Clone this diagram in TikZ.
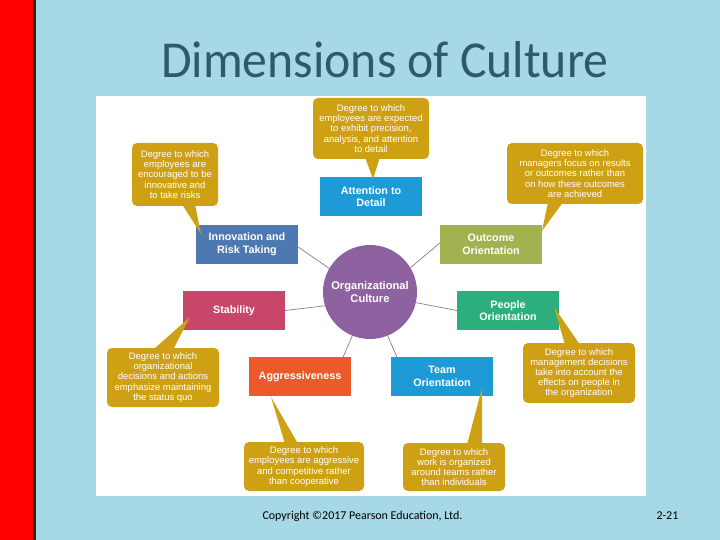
\documentclass[tikz,border=0pt]{standalone}
\usepackage{fontspec}
\setmainfont{Liberation Sans}
\newfontfamily\titlefont{Carlito}
\usetikzlibrary{calc}
\definecolor{bgblue}{HTML}{A6D8E5}
\definecolor{titlecol}{HTML}{2E5A6E}
\definecolor{gold}{HTML}{CEA114}
\definecolor{cblue}{HTML}{1E9BD7}
\definecolor{csteel}{HTML}{4E78B0}
\definecolor{colive}{HTML}{A2B250}
\definecolor{ccrimson}{HTML}{C84669}
\definecolor{cgreen}{HTML}{2DAF7D}
\definecolor{corange}{HTML}{EB5A28}
\definecolor{cpurple}{HTML}{8E62A0}
\definecolor{darkbar}{HTML}{1E2A12}
\begin{document}
\begin{tikzpicture}[x=1bp,y=-1bp,
  dimbox/.style={minimum width=102bp, minimum height=39bp, text=white,
    font=\fontsize{10.8}{12.7}\selectfont\bfseries, align=center, inner sep=0pt},
  callout/.style={fill=gold, rounded corners=5bp, text=white,
    font=\fontsize{9.5}{10.2}\selectfont, align=center, inner sep=0pt},
  conn/.style={draw=black!55, line width=0.6bp},
  ptr/.style={fill=gold}]
\useasboundingbox (0,0) rectangle (720,540);
\fill[bgblue] (0,0) rectangle (720,540);
\fill[red] (0,0) rectangle (33,540);
\fill[darkbar] (33,0) rectangle (36,540);
\fill[white] (96,96) rectangle (646,496);

\node[text=titlecol, font=\titlefont\fontsize{52}{60}\selectfont, xscale=0.96, anchor=base] (title) at (385,78) {Dimensions of Culture};

% centre
\node[circle, fill=cpurple, minimum size=94bp, inner sep=0pt, text=white,
  font=\fontsize{11.2}{12.3}\selectfont\bfseries, align=center] (circ) at (370,292) {Organizational\\Culture};

% dimension boxes
\node[dimbox, fill=cblue] (attn) at (371,196.5) {Attention to\\Detail};
\node[dimbox, fill=csteel] (inno) at (247,244.5) {Innovation and\\Risk Taking};
\node[dimbox, fill=colive] (outc) at (491,244.5) {Outcome\\Orientation};
\node[dimbox, fill=ccrimson] (stab) at (234,310.5) {Stability};
\node[dimbox, fill=cgreen] (peop) at (508,310.5) {People\\Orientation};
\node[dimbox, fill=corange] (aggr) at (300,376.5) {Aggressiveness};
\node[dimbox, fill=cblue] (team) at (442,376.5) {Team\\Orientation};

% connectors
\draw[conn] (circ.150) -- ($(inno.east)+(0,2.5)$);
\draw[conn] (circ.31) -- ($(outc.west)+(0,-1.5)$);
\draw[conn] (circ.197) -- (stab.east);
\draw[conn] (circ.347) -- (peop.west);
\draw[conn] (circ.248) -- ($(aggr.north east)+(-8,0)$);
\draw[conn] (circ.292) -- ($(team.north west)+(6,0)$);

% callouts
\node[callout, minimum width=116bp, minimum height=61bp] (c1) at (371,128.5)
  {Degree to which\\employees are expected\\to exhibit precision,\\analysis, and attention\\to detail};
\node[callout, minimum width=86bp, minimum height=63bp] (c2) at (175,174.5)
  {Degree to which\\employees are\\encouraged to be\\innovative and\\to take risks};
\node[callout, minimum width=136bp, minimum height=61bp] (c3) at (575,173.5)
  {Degree to which\\managers focus on results\\or outcomes rather than\\on how these outcomes\\are achieved};
\node[callout, minimum width=112bp, minimum height=59bp] (c4) at (163,377.5)
  {Degree to which\\organizational\\decisions and actions\\emphasize maintaining\\the status quo};
\node[callout, minimum width=120bp, minimum height=49bp] (c5) at (304,466.5)
  {Degree to which\\employees are aggressive\\and competitive rather\\than cooperative};
\node[callout, minimum width=112bp, minimum height=60bp] (c6) at (579,373)
  {Degree to which\\management decisions\\take into account the\\effects on people in\\the organization};
\node[callout, minimum width=102bp, minimum height=48bp] (c7) at (454,467)
  {Degree to which\\work is organized\\around teams rather\\than individuals};

% pointer tips
\coordinate (t1) at (373,179);
\coordinate (t2) at (201,234);
\coordinate (t3) at (542,231);
\coordinate (t4) at (190,317);
\coordinate (t5) at (271,397);
\coordinate (t6) at (554,307);
\coordinate (t7) at (482,388);
\fill[ptr] ($(c1.south)+(-6,-2)$) -- (t1) -- ($(c1.south)+(9,-2)$) -- cycle;
\fill[ptr] ($(c2.south)+(7,-2)$) -- (t2) -- ($(c2.south)+(20,-2)$) -- cycle;
\fill[ptr] ($(c3.south)+(-27,-2)$) -- (t3) -- ($(c3.south)+(-12,-2)$) -- cycle;
\fill[ptr] ($(c4.north)+(-10,2)$) -- (t4) -- ($(c4.north)+(10,2)$) -- cycle;
\fill[ptr] ($(c5.north)+(-19,2)$) -- (t5) -- ($(c5.north)+(-6,2)$) -- cycle;
\fill[ptr] ($(c6.north)+(-14,2)$) -- (t6) -- ($(c6.north)+(1,2)$) -- cycle;
\fill[ptr] ($(c7.north)+(13,2)$) -- (t7) -- ($(c7.north)+(28,2)$) -- cycle;

% footer
\node[font=\titlefont\fontsize{12}{14}\selectfont, anchor=base west, text=black] (copy) at (259,519) {Copyright ©2017 Pearson Education, Ltd.};
\node[font=\titlefont\fontsize{12}{14}\selectfont, anchor=base west, text=black] (pg) at (653,519) {2-21};
\end{tikzpicture}
\end{document}
